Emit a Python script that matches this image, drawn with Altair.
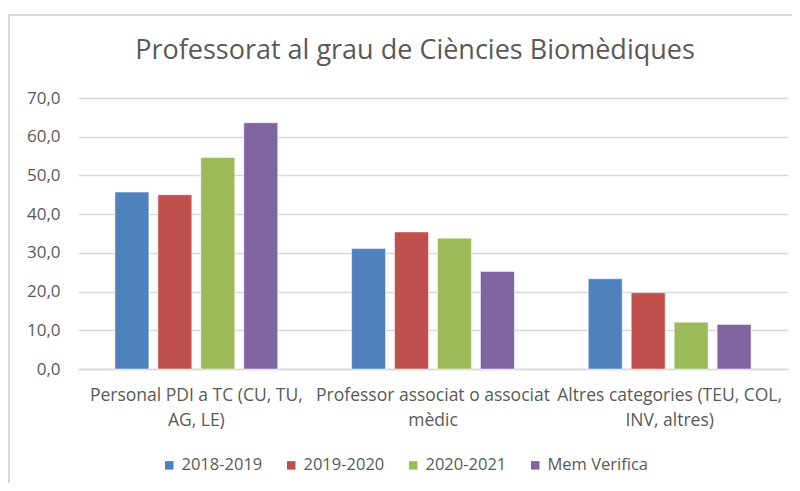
import altair as alt
import pandas as pd

title_text = "Professorat al grau de Ciències Biomèdiques"
categories = ["Personal PDI a TC (CU, TU,|AG, LE)",
              "Professor associat o associat|mèdic",
              "Altres categories  (TEU, COL,|INV, altres)"]
series = ["2018-2019", "2019-2020", "2020-2021", "Mem Verifica"]
colors = ["#4f81bd", "#c0504d", "#9bbb59", "#8064a2"]
values = {
    "2018-2019": [45.7, 31.1, 23.3],
    "2019-2020": [45.0, 35.4, 19.7],
    "2020-2021": [54.6, 33.8, 12.1],
    "Mem Verifica": [63.6, 25.2, 11.5],
}
y_ticks = [0, 10, 20, 30, 40, 50, 60, 70]

rows = []
for s in series:
    for c, v in zip(categories, values[s]):
        rows.append({"cat": c, "serie": s, "val": v})
df = pd.DataFrame(rows)

FONT = "Open Sans"
GREY = "#595959"

bars = alt.Chart(df).mark_bar(stroke="white", strokeWidth=0.5).encode(
    x=alt.X("cat:N", sort=categories, title=None,
            scale=alt.Scale(paddingInner=0, paddingOuter=0),
            axis=alt.Axis(labelAngle=0, labelExpr="split(datum.label, '|')",
                          labelFontSize=17.5, labelColor=GREY, labelFont=FONT,
                          labelPadding=17, labelLineHeight=25, ticks=False,
                          domainColor="#d9d9d9", domainWidth=1.5, labelLimit=260)),
    xOffset=alt.XOffset("serie:N", sort=series,
                        scale=alt.Scale(paddingInner=0.21, paddingOuter=0.86)),
    y=alt.Y("val:Q", title=None,
            scale=alt.Scale(domain=[0, 70], nice=False),
            axis=alt.Axis(values=y_ticks, labelExpr="replace(format(datum.value, '.1f'), '.', ',')",
                          labelFontSize=17, labelColor=GREY, labelFont=FONT,
                          labelPadding=18, ticks=False, domain=False,
                          gridColor="#d9d9d9", gridWidth=1.5)),
    color=alt.Color("serie:N", sort=series,
                    scale=alt.Scale(domain=series, range=colors),
                    legend=alt.Legend(title=None, orient="none", direction="horizontal",
                                      legendX=83, legendY=359, symbolType="square",
                                      symbolSize=72, symbolStrokeWidth=0,
                                      labelFontSize=16.5, labelColor=GREY, labelFont=FONT,
                                      columnPadding=20, labelOffset=4)),
)

border = alt.Chart(pd.DataFrame({"a": [0]})).mark_rect(
    fill=None, stroke="#d9d9d9", strokeWidth=2
).encode(x=alt.value(-69), x2=alt.value(760), y=alt.value(-83), y2=alt.value(420))

title = alt.Chart(pd.DataFrame({"t": [title_text]})).mark_text(
    font=FONT, fontSize=27, color=GREY, align="center", baseline="alphabetic"
).encode(text="t:N", x=alt.value(337), y=alt.value(-39))

chart = alt.layer(border, bars, title).properties(
    width=710, height=271,
    autosize=alt.AutoSizeParams(type="none"),
    padding={"left": 70, "top": 90, "right": 4, "bottom": 114},
    background="white",
).configure_view(stroke=None)

chart.save("out.html", embed_options={"renderer": "svg", "actions": False})
